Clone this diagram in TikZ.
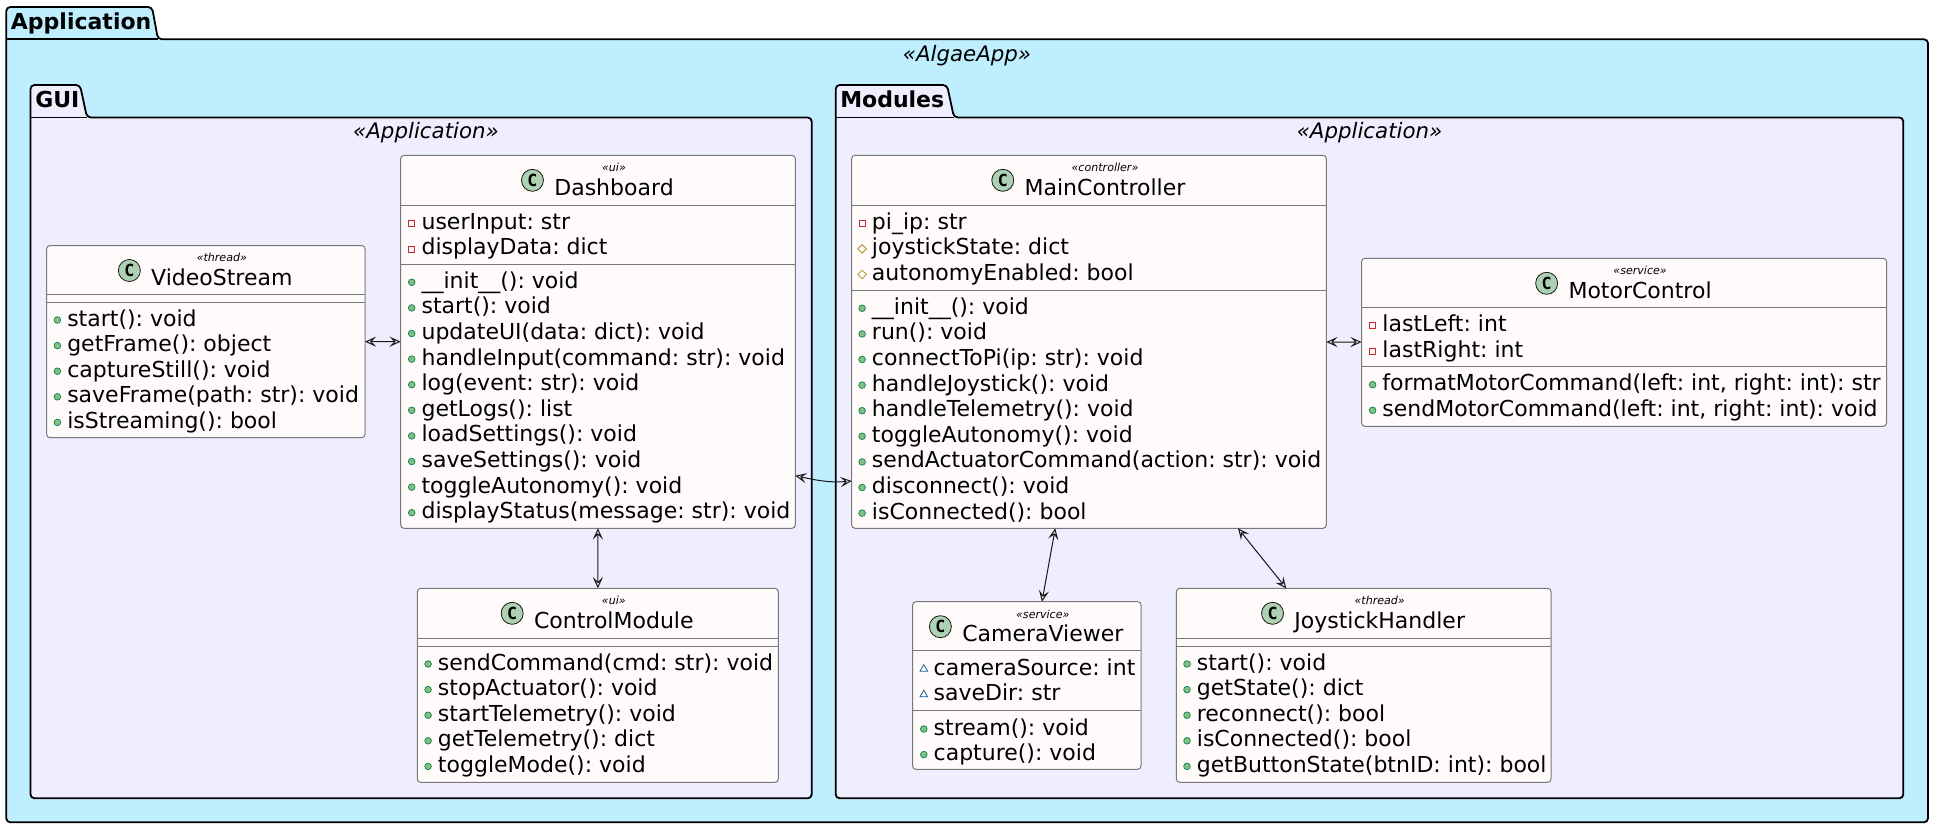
\documentclass[tikz,border=0pt]{standalone}
\usepackage{fontspec}
\setmainfont{DejaVu Sans}
\setmonofont{DejaVu Sans Mono}
\usetikzlibrary{arrows.meta,calc,shapes.geometric}
\definecolor{appbg}{HTML}{BFEFFF}
\definecolor{pkgbg}{HTML}{EEEEFF}
\definecolor{classbg}{HTML}{FFFBFA}
\definecolor{classline}{HTML}{787878}
\definecolor{edgeline}{HTML}{181818}
\definecolor{spotbg}{HTML}{ADD1B2}
\definecolor{publine}{HTML}{038048}
\definecolor{pubfill}{HTML}{84BE84}
\definecolor{privline}{HTML}{C82930}
\definecolor{protline}{HTML}{B38D22}
\definecolor{packline}{HTML}{1963A0}
\tikzset{
  pkgframe/.style={draw=black,line width=1.35pt},
  pkgtitle/.style={anchor=base west,inner sep=0pt,font=\fontsize{16.5}{18}\selectfont\bfseries},
  pkgtag/.style={anchor=base,inner sep=0pt,font=\fontsize{16}{18}\selectfont\itshape},
  classbox/.style={draw=classline,fill=classbg,line width=0.75pt,rounded corners=2.5pt,anchor=north west,inner sep=0pt,outer sep=0pt},
  classrule/.style={draw=classline,line width=0.75pt},
  classname/.style={anchor=base,inner sep=0pt,font=\fontsize{16.5}{18}\selectfont},
  classtag/.style={anchor=base,inner sep=0pt,font=\fontsize{8.3}{10}\selectfont\itshape},
  spot/.style={circle,draw=edgeline,fill=spotbg,line width=0.6pt,minimum size=16.5pt,inner sep=0pt,font=\fontsize{12.5}{14}\selectfont\ttfamily\bfseries},
  member/.style={anchor=base west,inner sep=0pt,font=\fontsize{16.5}{18}\selectfont\frenchspacing},
  pubicon/.style={circle,draw=publine,fill=pubfill,line width=0.5pt,minimum size=5pt,inner sep=0pt},
  privicon/.style={rectangle,draw=privline,line width=0.6pt,minimum size=4.5pt,inner sep=0pt},
  proticon/.style={diamond,aspect=1,draw=protline,line width=0.6pt,minimum size=6.6pt,inner sep=0pt},
  packicon/.style={regular polygon,regular polygon sides=3,draw=packline,line width=0.6pt,minimum size=6.6pt,inner sep=0pt},
  link/.style={draw=edgeline,line width=0.75pt,{Stealth[open,length=8.4pt,width=7.6pt,inset=3.6pt]}-{Stealth[open,length=8.4pt,width=7.6pt,inset=3.6pt]}},
}
% box: name, x, y, width, height
\newcommand{\classnode}[5]{\node[classbox,minimum width=#4*0.75pt,minimum height=#5*0.75pt] (#1) at (#2,#3) {};}
% header: box name, class text, stereotype
\newcommand{\classhead}[3]{%
  \node[classname] (#1-name) at ($(#1.north)+(16,39.7)$) {#2};
  \node[classtag] (#1-tag) at ($(#1-name.base)+(0,-23.3)$) {«#3»};
  \node[spot] (#1-spot) at ($(#1-name.base west)+(-21.6,-14.7)$) {C};
}
% row: icon style, node name, text x, baseline, text
\newcommand{\mrow}[5]{%
  \node[#1] (#2-i) at ({#3-9.6},{#4-6}) {};
  \node[member] (#2) at ({#3},{#4}) {#5};
}
\begin{document}
\begin{tikzpicture}[x=0.75pt,y=0.75pt,yscale=-1,xscale=1]
\useasboundingbox (0,0) rectangle (1933,828);
%Package: Application
\draw[pkgframe,fill=appbg] (6.3,39.3) [rounded corners=3pt] -- (6.3,7) -- (152,7) -- (158,39.3) [sharp corners] -- (1800,39.3) [rounded corners=3pt] -- (1928,39.3) -- (1928,822.3) -- (6.3,822.3) -- cycle;
\draw[pkgframe] (6.3,39.3) -- (158,39.3);
\node[pkgtitle] (app-title) at (10.7,29.7) {Application};
\node[pkgtag] (app-tag) at (967,61) {«AlgaeApp»};
%Package: GUI
\draw[pkgframe,fill=pkgbg] (30.5,117.5) [rounded corners=3pt] -- (30.5,85) -- (80,85) -- (87,117.5) [sharp corners] -- (700,117.5) [rounded corners=3pt] -- (811.7,117.5) -- (811.7,798.3) -- (30.5,798.3) -- cycle;
\draw[pkgframe] (30.5,117.5) -- (87,117.5);
\node[pkgtitle] (gui-title) at (35,107.5) {GUI};
\node[pkgtag] (gui-tag) at (426,138) {«Application»};
%Package: Modules
\draw[pkgframe,fill=pkgbg] (835.7,117.5) [rounded corners=3pt] -- (835.7,85) -- (947,85) -- (954,117.5) [sharp corners] -- (1800,117.5) [rounded corners=3pt] -- (1903.3,117.5) -- (1903.3,798.3) -- (835.7,798.3) -- cycle;
\draw[pkgframe] (835.7,117.5) -- (954,117.5);
\node[pkgtitle] (mod-title) at (840,107.5) {Modules};
\node[pkgtag] (mod-tag) at (1369.5,138) {«Application»};

%Class: VideoStream
\classnode{VideoStream}{46.7}{245.5}{318.3}{192.2}
\classhead{VideoStream}{VideoStream}{thread}
\draw[classrule] (VideoStream.west |- 0,294.3) -- (VideoStream.east |- 0,294.3);
\draw[classrule] (VideoStream.west |- 0,302.3) -- (VideoStream.east |- 0,302.3);
\foreach \txt [count=\i from 0] in {start(): void,getFrame(): object,captureStill(): void,saveFrame(path: str): void,isStreaming(): bool}
  {\mrow{pubicon}{video-m\i}{67}{326+25.6*\i}{\txt}}

%Class: Dashboard
\classnode{Dashboard}{400.7}{155.3}{394.6}{373}
\classhead{Dashboard}{Dashboard}{ui}
\draw[classrule] (Dashboard.west |- 0,205.3) -- (Dashboard.east |- 0,205.3);
\draw[classrule] (Dashboard.west |- 0,264.3) -- (Dashboard.east |- 0,264.3);
\foreach \txt [count=\i from 0] in {userInput: str,displayData: dict}
  {\mrow{privicon}{dash-a\i}{421.3}{229.3+25.6*\i}{\txt}}
\foreach \txt [count=\i from 0] in {\_\_init\_\_(): void,start(): void,updateUI(data: dict): void,handleInput(command: str): void,log(event: str): void,getLogs(): list,loadSettings(): void,saveSettings(): void,toggleAutonomy(): void,displayStatus(message: str): void}
  {\mrow{pubicon}{dash-m\i}{421.3}{288.3+25.6*\i}{\txt}}

%Class: ControlModule
\classnode{ControlModule}{417.3}{588.3}{361}{194}
\classhead{ControlModule}{ControlModule}{ui}
\draw[classrule] (ControlModule.west |- 0,638.3) -- (ControlModule.east |- 0,638.3);
\draw[classrule] (ControlModule.west |- 0,646.3) -- (ControlModule.east |- 0,646.3);
\foreach \txt [count=\i from 0] in {sendCommand(cmd: str): void,stopActuator(): void,startTelemetry(): void,getTelemetry(): dict,toggleMode(): void}
  {\mrow{pubicon}{ctrl-m\i}{437.7}{670+25.6*\i}{\txt}}

%Class: MainController
\classnode{MainController}{851.7}{155.3}{474.6}{373}
\classhead{MainController}{MainController}{controller}
\draw[classrule] (MainController.west |- 0,205.3) -- (MainController.east |- 0,205.3);
\draw[classrule] (MainController.west |- 0,290.3) -- (MainController.east |- 0,290.3);
\mrow{privicon}{main-a0}{871.7}{229.3}{pi\_ip: str}
\mrow{proticon}{main-a1}{871.7}{254.9}{joystickState: dict}
\mrow{proticon}{main-a2}{871.7}{280.5}{autonomyEnabled: bool}
\foreach \txt [count=\i from 0] in {\_\_init\_\_(): void,run(): void,connectToPi(ip: str): void,handleJoystick(): void,handleTelemetry(): void,toggleAutonomy(): void,sendActuatorCommand(action: str): void,disconnect(): void,isConnected(): bool}
  {\mrow{pubicon}{main-m\i}{871.7}{314.3+25.6*\i}{\txt}}

%Class: MotorControl
\classnode{MotorControl}{1361.6}{258.3}{524.9}{168}
\classhead{MotorControl}{MotorControl}{service}
\draw[classrule] (MotorControl.west |- 0,307.5) -- (MotorControl.east |- 0,307.5);
\draw[classrule] (MotorControl.west |- 0,366.3) -- (MotorControl.east |- 0,366.3);
\foreach \txt [count=\i from 0] in {lastLeft: int,lastRight: int}
  {\mrow{privicon}{motor-a\i}{1382.2}{331.7+25.6*\i}{\txt}}
\foreach \txt [count=\i from 0] in {{formatMotorCommand(left: int, right: int): str},{sendMotorCommand(left: int, right: int): void}}
  {\mrow{pubicon}{motor-m\i}{1382.2}{390.7+25.6*\i}{\txt}}

%Class: CameraViewer
\classnode{CameraViewer}{912.6}{601.7}{228.4}{167.6}
\classhead{CameraViewer}{CameraViewer}{service}
\draw[classrule] (CameraViewer.west |- 0,650.3) -- (CameraViewer.east |- 0,650.3);
\draw[classrule] (CameraViewer.west |- 0,710.3) -- (CameraViewer.east |- 0,710.3);
\foreach \txt [count=\i from 0] in {cameraSource: int,saveDir: str}
  {\mrow{packicon}{cam-a\i}{933.4}{675+25.6*\i}{\txt}}
\foreach \txt [count=\i from 0] in {stream(): void,capture(): void}
  {\mrow{pubicon}{cam-m\i}{933.4}{735+25.6*\i}{\txt}}

%Class: JoystickHandler
\classnode{JoystickHandler}{1176.4}{588.3}{374.6}{194}
\classhead{JoystickHandler}{JoystickHandler}{thread}
\draw[classrule] (JoystickHandler.west |- 0,638.3) -- (JoystickHandler.east |- 0,638.3);
\draw[classrule] (JoystickHandler.west |- 0,646.3) -- (JoystickHandler.east |- 0,646.3);
\foreach \txt [count=\i from 0] in {start(): void,getState(): dict,reconnect(): bool,isConnected(): bool,getButtonState(btnID: int): bool}
  {\mrow{pubicon}{joy-m\i}{1196.6}{670+25.6*\i}{\txt}}

%Connectors
\coordinate (dash-port) at (Dashboard.east |- 0,475.7);
\coordinate (main-port) at (MainController.west |- 0,481);
\draw[link] (VideoStream) -- (Dashboard);
\draw[link] (Dashboard) -- (ControlModule);
\draw[link] (dash-port) .. controls (815,480) and (830,483) .. (main-port);
\draw[link] (MainController) -- (MotorControl);
\draw[link] (MainController) -- (CameraViewer);
\draw[link] (MainController) -- (JoystickHandler);
\end{tikzpicture}
\end{document}
